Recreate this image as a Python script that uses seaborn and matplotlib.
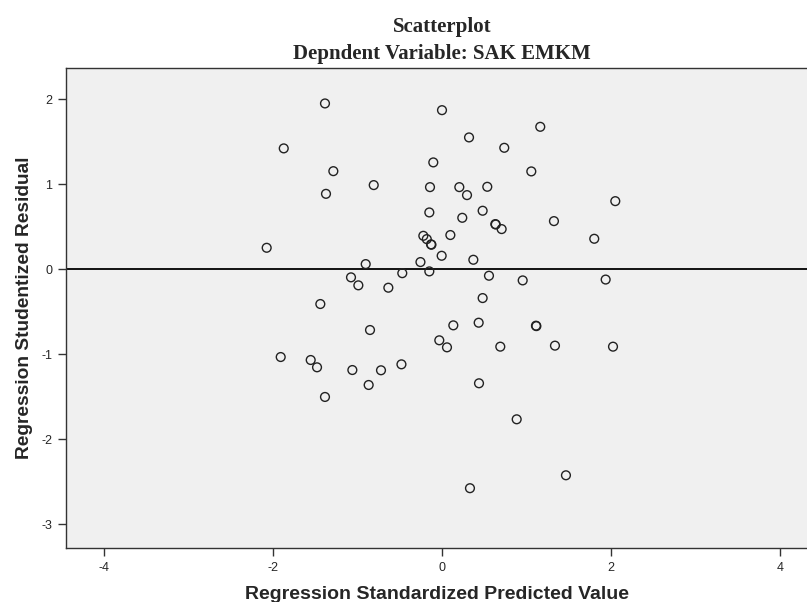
import matplotlib
matplotlib.use("Agg")
import matplotlib.pyplot as plt
import seaborn as sns
import pandas as pd

pred = [-1.385, -1.873, -1.286, -0.808, -1.373, -2.075, -0.903, -1.077, -0.47, -0.255,
        -0.221, -0.18, -0.13, -0.125, 0.0, 0.32, 1.163, 0.737, -0.103, 1.057,
        -0.142, 0.205, 0.296, 0.536, 2.051, -0.15, 0.481, 0.24, 1.325, 0.631,
        0.636, 0.706, 1.802, 0.099, -0.004, 0.371, -0.15, 0.556, 0.955, 1.937,
        -0.99, -0.635, -1.44, -0.852, -1.909, -1.554, -1.479, -1.061, -0.722, -0.48,
        -0.868, -1.385, 0.481, 0.134, 0.434, 1.112, 1.117, -0.032, 0.059, 0.69,
        1.337, 2.024, 0.438, 0.884, 1.467, 0.331]
resid = [1.953, 1.424, 1.156, 0.992, 0.889, 0.254, 0.062, -0.094, -0.045, 0.086,
         0.395, 0.356, 0.294, 0.29, 1.874, 1.553, 1.678, 1.431, 1.259, 1.153,
         0.968, 0.968, 0.874, 0.972, 0.803, 0.67, 0.69, 0.607, 0.568, 0.533,
         0.528, 0.474, 0.36, 0.404, 0.16, 0.113, -0.024, -0.075, -0.13, -0.12,
         -0.188, -0.216, -0.408, -0.714, -1.032, -1.067, -1.153, -1.185, -1.188, -1.118,
         -1.361, -1.502, -0.338, -0.659, -0.628, -0.663, -0.668, -0.835, -0.918, -0.91,
         -0.898, -0.91, -1.341, -1.765, -2.424, -2.576]

x_ticks = [-4, -2, 0, 2, 4]
y_ticks = [-3, -2, -1, 0, 1, 2]

df = pd.DataFrame({"pred": pred, "resid": resid})

sns.set_style("white")
plt.rcParams['font.family'] = ['Liberation Sans', 'DejaVu Sans']

fig = plt.figure(figsize=(8.07, 6.02), dpi=100)
ax = fig.add_axes([0.0818, 0.0897, 0.9182, 0.7973])
ax.set_facecolor("#F0F0F0")

ax.axhline(0, color="black", linewidth=1.3, zorder=1)
sns.scatterplot(data=df, x="pred", y="resid", ax=ax, marker="o", s=40,
                facecolors="none", edgecolor="#222222", linewidth=1.0, zorder=3)

ax.set_xlim(-4.45, 4.32)
ax.set_ylim(-3.28, 2.37)
ax.set_xticks(x_ticks)
ax.set_yticks(y_ticks)
ax.set_xticklabels([str(v) for v in x_ticks])
ax.set_yticklabels([str(v) for v in y_ticks])
ax.tick_params(axis="both", direction="out", length=6, width=1.0, color="#333333",
               labelsize=9, pad=4, bottom=True, left=True)

for side in ["left", "bottom", "top", "right"]:
    ax.spines[side].set_color("#333333")
    ax.spines[side].set_linewidth(1.0)
ax.spines["right"].set_visible(False)

ax.set_xlabel("Regression Standardized Predicted Value", fontsize=14,
              fontweight="bold", labelpad=9)
ax.set_ylabel("Regression Studentized Residual", fontsize=13.8,
              fontweight="bold", labelpad=6)

fig.text(0.548, 0.955, "Scatterplot", ha="center", va="center",
         fontsize=15, fontweight="bold", family=["Liberation Serif", "DejaVu Serif"])
fig.text(0.548, 0.910, "Depndent Variable: SAK EMKM", ha="center", va="center",
         fontsize=15, fontweight="bold", family=["Liberation Serif", "DejaVu Serif"])

fig.savefig("out.png", dpi=100)
